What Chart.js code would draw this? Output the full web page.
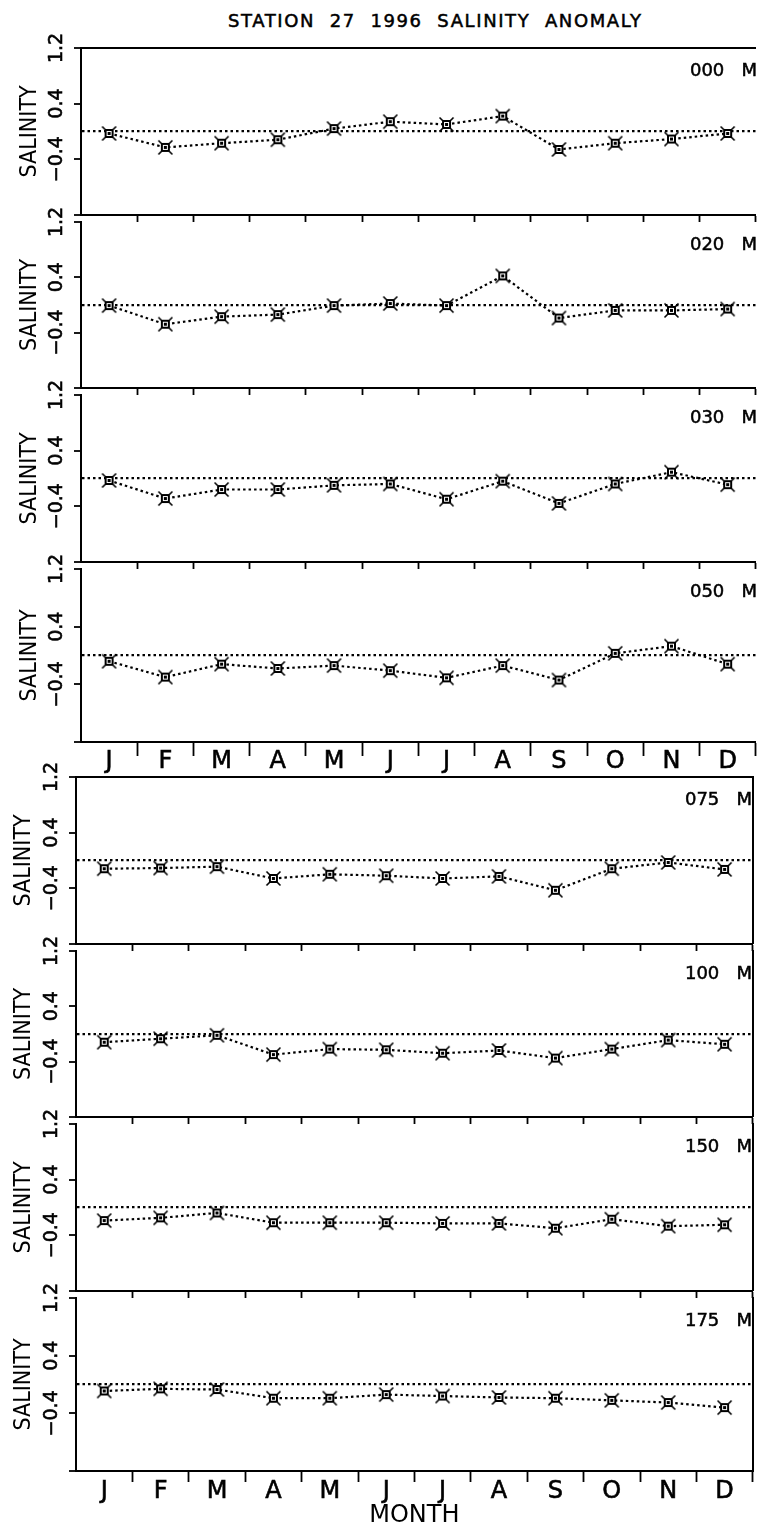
<!DOCTYPE html>
<html>
<head>
<meta charset="utf-8">
<script src="https://cdn.jsdelivr.net/npm/chart.js@4/dist/chart.umd.min.js"></script>
<style>
html, body { margin:0; padding:0; background:#fff; overflow:hidden; width:762px; height:1531px; }
#stage { position:relative; width:762px; height:1531px; overflow:hidden; background:#fff; }
#stage canvas { position:absolute; }
.lbl { position:absolute; font-family:"DejaVu Sans"; font-size:18px; line-height:18px; white-space:pre; color:#000; -webkit-text-stroke:0.5px #000; }
</style>
</head>
<body>
<div id="stage"></div>
<script>
// ---------------- DATA ----------------
const chartTitle = 'STATION  27  1996  SALINITY  ANOMALY';
const months = ['J','F','M','A','M','J','J','A','S','O','N','D'];
const depthNames = ['000   M','020   M','030   M','050   M','075   M','100   M','150   M','175   M'];
const yAxisTitle = 'SALINITY';
const xAxisTitle = 'MONTH';
const yTickValues = [-1.2, -0.4, 0, 0.4, 1.2];
const yTickText   = ['', '\u22120.4', '', '0.4', '1.2'];

const sal000 = [-0.03, -0.23, -0.17, -0.12, 0.04, 0.14, 0.10, 0.22, -0.26, -0.17, -0.11, -0.03];
const sal020 = [-0.01, -0.28, -0.17, -0.14, -0.01, 0.02, -0.01, 0.42, -0.19, -0.08, -0.08, -0.06];
const sal030 = [-0.03, -0.29, -0.16, -0.16, -0.10, -0.08, -0.30, -0.04, -0.36, -0.08, 0.09, -0.09];
const sal050 = [-0.08, -0.30, -0.12, -0.18, -0.14, -0.21, -0.31, -0.14, -0.34, 0.03, 0.13, -0.12];
const sal075 = [-0.12, -0.11, -0.09, -0.26, -0.20, -0.22, -0.26, -0.23, -0.43, -0.12, -0.03, -0.13];
const sal100 = [-0.12, -0.07, -0.02, -0.30, -0.22, -0.23, -0.28, -0.24, -0.35, -0.22, -0.09, -0.15];
const sal150 = [-0.19, -0.15, -0.08, -0.22, -0.22, -0.22, -0.23, -0.23, -0.30, -0.17, -0.27, -0.25];
const sal175 = [-0.09, -0.06, -0.07, -0.19, -0.19, -0.14, -0.16, -0.18, -0.19, -0.22, -0.25, -0.32];
const series = [sal000, sal020, sal030, sal050, sal075, sal100, sal150, sal175];

// ---------------- LAYOUT ----------------
const TOP_M = 16;
const panelTops = [48, 222, 395, 569, 777, 951, 1124, 1298];
const groupBottoms = [742, 1471];
const groups = [
  { axisX: 81, canvasW: 765, padRight: 0, rightBorder: false, tickLabelCX: 57, titleCX: 30, xTickLen: 14, xLabelPad: -8.3, labelRight: 757 },
  { axisX: 76, canvasW: 762, padRight: 5, rightBorder: true,  tickLabelCX: 52, titleCX: 24, xTickLen: 11, xLabelPad: -4.8, labelRight: 752 }
];

const stage = document.getElementById('stage');

function hasFont(name) {
  const c = document.createElement('canvas').getContext('2d');
  const s = 'SALINITY mwil 0123';
  c.font = '40px monospace'; const a = c.measureText(s).width;
  c.font = '40px "' + name + '", monospace'; const b = c.measureText(s).width;
  return Math.abs(a - b) > 0.5;
}
let salFont;
if (hasFont('Liberation Sans Narrow')) salFont = { family: '"Liberation Sans Narrow"', size: 25 };
else if (hasFont('DejaVu Sans Condensed')) salFont = { family: '"DejaVu Sans Condensed"', size: 23 };
else salFont = { family: '"DejaVu Sans"', size: 20.5 };

const tickFont = { family: '"DejaVu Sans"', size: 19 };
const monthFont = { family: '"DejaVu Sans"', size: 24 };

// widest y tick label width (as Chart.js measures it)
const mctx = document.createElement('canvas').getContext('2d');
mctx.font = tickFont.size + 'px ' + tickFont.family;
const widestTick = Math.max(...yTickText.map(t => mctx.measureText(t).width));
const Y_TICK_LEN = 7;

function makeMarker() {
  const c = document.createElement('canvas');
  c.width = 17; c.height = 17;
  const g = c.getContext('2d');
  g.fillStyle = '#fff';
  g.fillRect(5, 5, 7, 7);
  g.strokeStyle = '#000';
  g.lineWidth = 2;
  g.strokeRect(5, 5, 7, 7);
  g.lineWidth = 1.6;
  g.beginPath();
  g.moveTo(4.5, 4.5);  g.lineTo(1.5, 1.5);
  g.moveTo(12.5, 4.5); g.lineTo(15.5, 1.5);
  g.moveTo(12.5, 12.5); g.lineTo(15.5, 15.5);
  g.moveTo(4.5, 12.5); g.lineTo(1.5, 15.5);
  g.stroke();
  g.fillStyle = '#000';
  g.fillRect(7, 7, 3, 3);
  return c;
}
const marker = makeMarker();

Chart.defaults.color = '#000';
Chart.defaults.font.family = '"DejaVu Sans"';

const isZero = c => c.tick && Math.abs(c.tick.value) < 1e-9;
const CLEAR = 'rgba(0,0,0,0)';

panelTops.forEach((top, k) => {
  const gi = k < 4 ? 0 : 1;
  const G = groups[gi];
  const idx = k % 4;
  const bottom = idx === 3 ? groupBottoms[gi] : panelTops[k + 1];
  const h = bottom - top;
  const labeled = idx === 3;
  const last = k === 7;
  const bottomH = last ? 60 : (labeled ? 40 : 2);

  const canvas = document.createElement('canvas');
  canvas.width = G.canvasW;
  canvas.height = TOP_M + h + bottomH;
  canvas.style.left = '0px';
  canvas.style.top = (top - TOP_M) + 'px';
  stage.appendChild(canvas);

  const yPad = (G.axisX - G.tickLabelCX) - Y_TICK_LEN - widestTick / 2;
  const titlePadTop = G.titleCX - salFont.size * 0.6;

  const scales = {
    x: {
      type: 'category', labels: months, position: 'bottom', offset: true,
      grid: {
        offset: true, drawOnChartArea: false, drawTicks: labeled,
        tickLength: G.xTickLen, tickWidth: 1.8,
        tickColor: c => c.index === 0 ? CLEAR : '#000'
      },
      border: { display: true, color: '#000', width: 2 },
      ticks: { display: labeled, color: '#000', font: monthFont, padding: G.xLabelPad,
               maxRotation: 0, minRotation: 0, autoSkip: false,
               textStrokeColor: '#000', textStrokeWidth: 0.6 },
      title: { display: last, text: xAxisTitle, color: '#000', font: monthFont, padding: { top: 0, bottom: 1 } },
      afterFit: s => { s.height = bottomH; s.paddingLeft = 0; s.paddingRight = 0; }
    },
    xTop: {
      type: 'category', labels: months, position: 'top', offset: true,
      grid: {
        offset: true, drawOnChartArea: false, drawTicks: idx !== 0,
        tickLength: 6, tickWidth: 1.8,
        tickColor: c => c.index === 0 ? CLEAR : '#000'
      },
      border: { display: idx === 0, color: '#000', width: 2 },
      ticks: { display: false },
      afterFit: s => { s.height = TOP_M; s.paddingLeft = 0; s.paddingRight = 0; }
    },
    y: {
      type: 'linear', position: 'left', min: -1.2, max: 1.2,
      afterBuildTicks: s => { s.ticks = yTickValues.map(v => ({ value: v })); },
      ticks: {
        callback: v => { const i = yTickValues.findIndex(t => Math.abs(t - v) < 1e-9); return i >= 0 ? yTickText[i] : ''; },
        minRotation: 90, maxRotation: 90, crossAlign: 'center', padding: yPad,
        color: '#000', font: tickFont, autoSkip: false,
        textStrokeColor: '#000', textStrokeWidth: 0.6
      },
      grid: {
        drawOnChartArea: true,
        color: c => isZero(c) ? '#000' : CLEAR,
        lineWidth: c => isZero(c) ? 2.2 : 0,
        tickLength: Y_TICK_LEN, tickWidth: 1.8,
        tickColor: c => isZero(c) ? CLEAR : '#000'
      },
      border: { display: true, color: '#000', width: 2, dash: [2.5, 3] },
      title: { display: true, text: yAxisTitle, color: '#000', font: salFont, padding: { top: titlePadTop, bottom: 0 } },
      afterFit: s => { s.width = G.axisX; s.paddingTop = 0; s.paddingBottom = 0; }
    }
  };
  if (G.rightBorder) {
    scales.yR = {
      type: 'linear', position: 'right', min: -1.2, max: 1.2,
      grid: { display: false, drawTicks: false },
      ticks: { display: false },
      border: { display: true, color: '#000', width: 2 },
      afterFit: s => { s.width = 0; s.paddingTop = 0; s.paddingBottom = 0; }
    };
  }

  new Chart(canvas, {
    type: 'line',
    data: {
      labels: months,
      datasets: [{
        data: series[k],
        xAxisID: 'x', yAxisID: 'y',
        borderColor: '#000', borderWidth: 2.2, borderDash: [2.5, 3],
        pointStyle: marker, pointRadius: 7,
        fill: false, tension: 0, clip: false
      }]
    },
    options: {
      responsive: false, animation: false, devicePixelRatio: 1, events: [],
      layout: { padding: { left: 0, right: G.padRight, top: 0, bottom: 0 } },
      plugins: { legend: { display: false }, tooltip: { enabled: false }, title: { display: false } },
      scales: scales
    }
  });

  const lab = document.createElement('div');
  lab.className = 'lbl';
  lab.textContent = depthNames[k];
  lab.style.right = (762 - G.labelRight) + 'px';
  lab.style.top = (top + 12.8) + 'px';
  stage.appendChild(lab);
});

const t = document.createElement('div');
t.className = 'lbl';
t.textContent = chartTitle;
t.style.left = '228px';
t.style.top = '11.6px';
t.style.letterSpacing = '1.6px';
stage.appendChild(t);
</script>
</body>
</html>
